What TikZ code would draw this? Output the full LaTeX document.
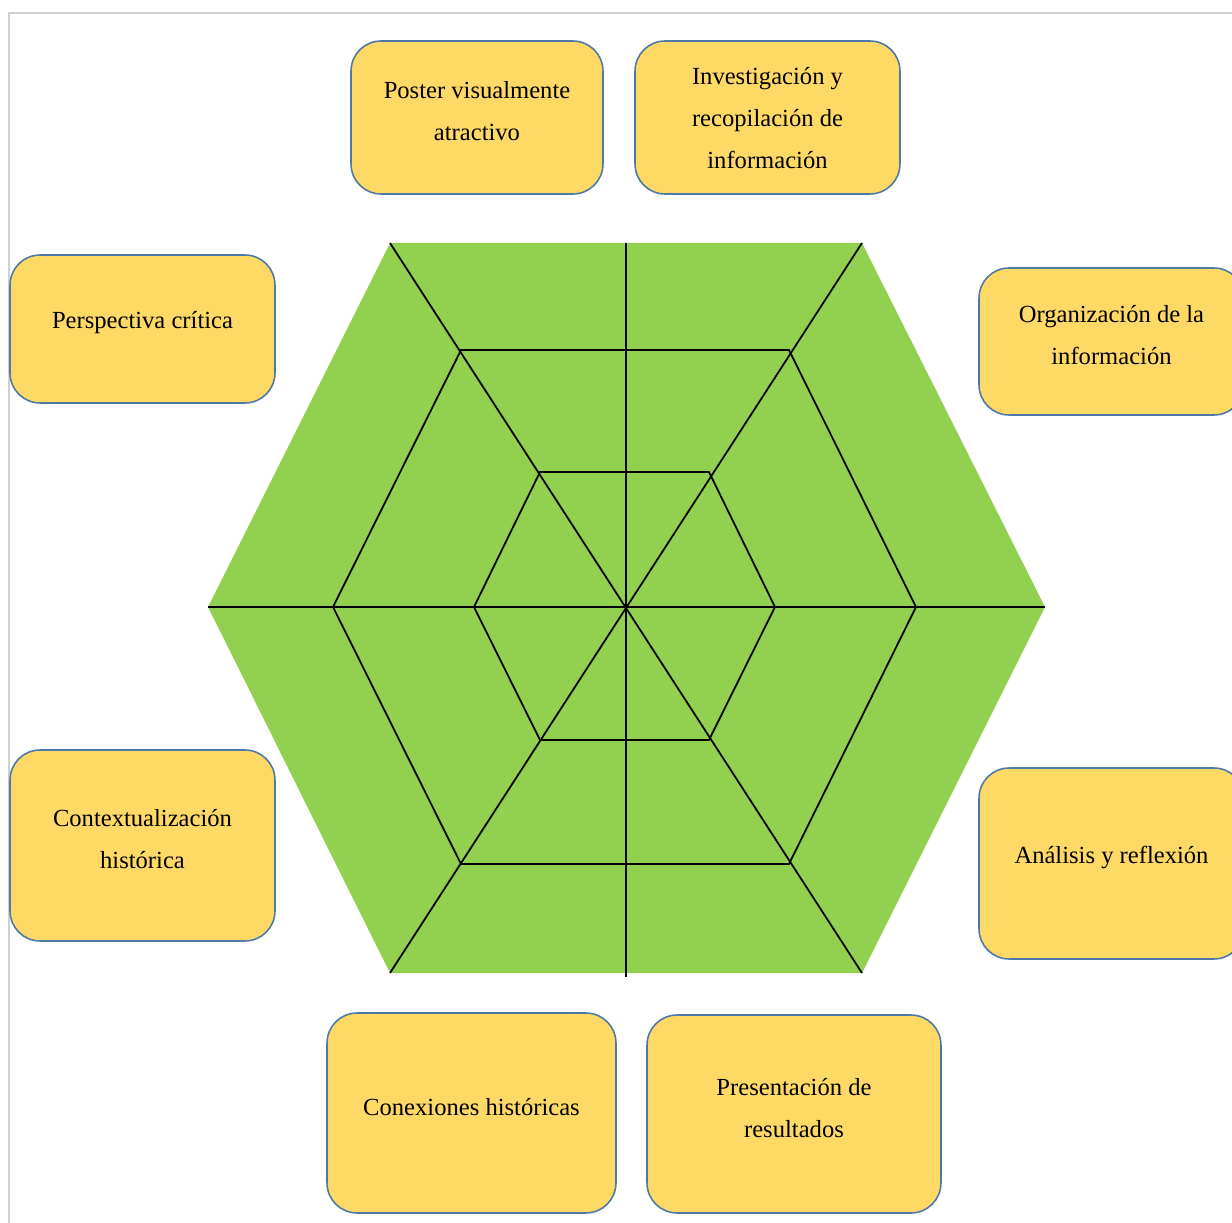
\documentclass[tikz,border=0pt]{standalone}
\usepackage{fontspec}
\setmainfont{Liberation Serif}
\usepackage{tikz}

\definecolor{verde}{HTML}{92D050}
\definecolor{dorado}{HTML}{FFD966}
\definecolor{borde}{HTML}{4F7AA6}
\definecolor{marco}{HTML}{D0D0D0}

\begin{document}
\begin{tikzpicture}[x=0.02cm, y=-0.02cm,
	tarea/.style={shape=rectangle, rounded corners=0.6cm, draw=borde, fill=dorado, line width=0.9pt},
	texto/.style={align=center, inner sep=0pt, yshift=0.12cm, font=\fontsize{14}{23.9}\selectfont},
	red/.style={line width=1pt, black}]
	
	\useasboundingbox (0,0) rectangle (1232,1223);
	\clip (0,0) rectangle (1232,1223);
	
	% marco
	\draw[marco, line width=1.6pt] (9,1230) -- (9,13) -- (1240,13);
	
	% vertices
	\coordinate (cen) at (626,607);
	\coordinate (o1) at (390,243);
	\coordinate (o2) at (862,243);
	\coordinate (o3) at (1045,607);
	\coordinate (o4) at (862,973);
	\coordinate (o5) at (390,973);
	\coordinate (o6) at (208,607);
	\coordinate (m1) at (461,350);
	\coordinate (m2) at (789,350);
	\coordinate (m3) at (916,607);
	\coordinate (m4) at (789,864);
	\coordinate (m5) at (461,864);
	\coordinate (m6) at (333,607);
	\coordinate (n1) at (540,472);
	\coordinate (n2) at (709,472);
	\coordinate (n3) at (775,607);
	\coordinate (n4) at (709,740);
	\coordinate (n5) at (540,740);
	\coordinate (n6) at (474,607);
	\coordinate (arr) at (626,243);
	\coordinate (aba) at (626,977);
	
	\fill[verde] (o1) -- (o2) -- (o3) -- (o4) -- (o5) -- (o6) -- cycle;
	\draw[red] (m1) -- (m2) -- (m3) -- (m4) -- (m5) -- (m6) -- cycle;
	\draw[red] (n1) -- (n2) -- (n3) -- (n4) -- (n5) -- (n6) -- cycle;
	\draw[red] (arr) -- (aba);
	\draw[red] (o6) -- (o3);
	\draw[red] (o1) -- (o4);
	\draw[red] (o2) -- (o5);
	
	% cajas
	\node[tarea, minimum width=5.04cm, minimum height=3.06cm, label={[texto]center:{Poster visualmente\\atractivo}}] (poster) at (477,117.5) {};
	\node[tarea, minimum width=5.3cm, minimum height=3.06cm, label={[texto, yshift=-0.14cm]center:{Investigación y\\recopilación de\\información}}] (invest) at (767.5,117.5) {};
	\node[tarea, minimum width=5.3cm, minimum height=2.96cm, label={[texto]center:{Perspectiva crítica}}] (persp) at (142.5,329) {};
	\node[tarea, minimum width=5.3cm, minimum height=2.94cm, label={[texto]center:{Organización de la\\información}}] (organ) at (1111.5,341.5) {};
	\node[tarea, minimum width=5.3cm, minimum height=3.82cm, label={[texto]center:{Contextualización\\histórica}}] (context) at (142.5,845.5) {};
	\node[tarea, minimum width=5.3cm, minimum height=3.82cm, label={[texto]center:{Análisis y reflexión}}] (analisis) at (1111.5,863.5) {};
	\node[tarea, minimum width=5.78cm, minimum height=4cm, label={[texto]center:{Conexiones históricas}}] (conex) at (471.5,1113) {};
	\node[tarea, minimum width=5.88cm, minimum height=3.96cm, label={[texto]center:{Presentación de\\resultados}}] (present) at (794,1114) {};
	
\end{tikzpicture}
\end{document}
